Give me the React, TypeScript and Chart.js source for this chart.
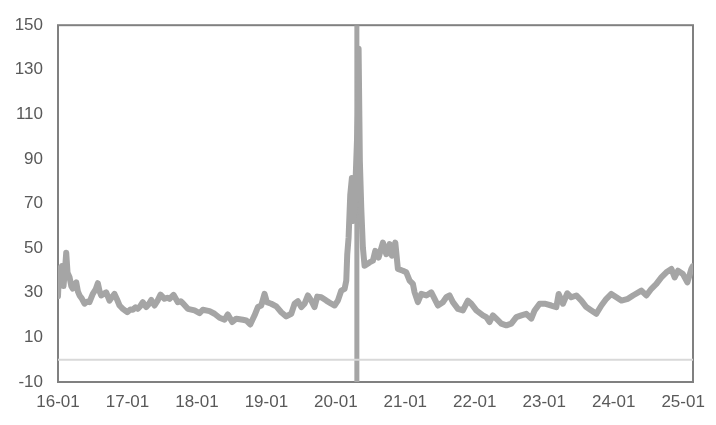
import React, { useEffect, useRef } from "react";
import { Chart, registerables } from "chart.js";

Chart.register(...registerables);

// x positions: months elapsed since 2016-01
const xTickValues = [0, 12, 24, 36, 48, 60, 72, 84, 96, 108];
const xTickLabels = ["16-01", "17-01", "18-01", "19-01", "20-01", "21-01", "22-01", "23-01", "24-01", "25-01"];
const yTickValues = [-10, 10, 30, 50, 70, 90, 110, 130, 150];
const xMax = 109.7;
const yMin = -10;
const yMax = 150;

const months = [
  0, 0.2, 0.45, 0.7, 0.95, 1.2, 1.42, 1.65, 1.99, 2.3, 2.56, 2.85, 3.15, 3.45, 3.72, 4.1, 4.58, 5.0, 5.44, 6.01,
  6.5, 6.88, 7.2, 7.46, 7.9, 8.33, 8.9, 9.3, 9.76, 10.2, 10.63, 11.2, 11.96, 12.5, 12.93, 13.4, 13.79, 14.2, 14.65, 15.24,
  15.7, 16.11, 16.68, 17.2, 17.71, 18.4, 18.9, 19.27, 19.96, 20.7, 21.2, 21.57, 22.43, 23.59, 24.45, 25.02, 26.18, 27.04, 27.91, 28.77,
  29.34, 30.1, 30.79, 31.93, 32.52, 33.21, 33.96, 34.53, 35.11, 35.68, 36.08, 36.84, 37.71, 38.57, 39.43, 40.3, 40.87, 41.44, 42.03, 42.6,
  43.17, 43.75, 44.32, 44.79, 45.48, 46.35, 47.21, 47.78, 48.35, 48.94, 49.51, 49.8, 49.97, 50.2, 50.49, 50.77, 51.01, 51.24, 51.81, 51.93,
  52.15, 52.39, 52.67, 52.96, 53.82, 54.4, 54.81, 55.38, 56.13, 56.71, 57.28, 57.68, 58.27, 58.72, 59.58, 60.17, 60.74, 61.31, 61.6, 62.17,
  62.76, 63.63, 64.49, 65.06, 65.63, 66.49, 67.08, 67.65, 68.22, 69.09, 69.95, 70.81, 71.4, 72.27, 73.41, 73.99, 74.56, 75.13, 75.72, 76.58,
  77.45, 78.31, 79.18, 80.04, 80.91, 81.77, 82.34, 83.2, 84.07, 85.22, 86.09, 86.49, 87.23, 87.99, 88.68, 89.54, 90.41, 91.27, 92.14, 93.0,
  93.87, 94.73, 95.59, 96.46, 97.32, 98.46, 99.33, 100.78, 101.64, 102.51, 103.37, 104.23, 105.1, 105.96, 106.53, 107.1, 107.96, 108.73, 109.42, 109.69,
];

const values = [
  28.5, 41, 34, 42, 33, 40, 48, 39, 37, 33, 31.9, 33.5, 34.7, 30.5, 28.8, 27.5, 25.1, 26, 25.8, 29.5,
  31.5, 34.3, 30.5, 28.8, 29.5, 30.2, 26.5, 28, 29.5, 27, 24.3, 22.8, 21.3, 22.5, 22.4, 23.5, 22.8, 24, 25.8, 23.6,
  25, 26.8, 24.3, 26.5, 29.2, 27.3, 27.8, 27.3, 29.1, 25.8, 26.2, 25.3, 22.8, 22.1, 20.9, 22.4, 21.8, 20.6, 18.8, 17.9,
  20.3, 16.9, 18.4, 17.9, 17.6, 15.8, 19.9, 23.6, 24.3, 29.5, 25.8, 25.1, 23.9, 21.3, 19.4, 20.6, 25.1, 26.2, 23.6, 25.1,
  28.8, 26.5, 23.6, 28.3, 28, 26.5, 25.1, 24.3, 26.5, 31, 31.8, 35.5, 47.3, 54.7, 74, 81.5, 62.2, 68.1, 110, 139.4,
  88.9, 68.1, 50.3, 42.1, 43.6, 44.4, 48.8, 45.8, 52.5, 47.3, 51.8, 46.6, 52.5, 40.7, 39.9, 39.2, 35.5, 34, 30.2, 25.8,
  29.5, 28.8, 30.2, 27.3, 24.3, 25.8, 28, 28.8, 25.8, 22.8, 22.1, 26.5, 25.1, 22.1, 19.9, 19.1, 16.9, 19.9, 18.4, 16.2,
  15.4, 16.2, 19.1, 19.9, 20.6, 18.4, 22.1, 25.1, 25.1, 24.3, 23.6, 29.5, 25.1, 29.8, 28, 28.8, 26.5, 23.6, 22.1, 20.6,
  24.3, 27.3, 29.5, 28, 26.5, 27.3, 28.8, 31, 28.8, 31.8, 34, 36.9, 39.2, 40.7, 36.9, 39.9, 38.4, 34.7, 40.7, 42,
];

const eventMonth = 51.63;

const textColor = "#595959";
const lineColor = "#a5a5a5";
const frameColor = "#808080";
const zeroLineColor = "#d9d9d9";
const fontSpec = { family: "'Liberation Sans', Arial, sans-serif", size: 17 };

export default function App() {
  const ref = useRef<HTMLCanvasElement>(null);

  useEffect(() => {
    if (!ref.current) return;
    const framePlugin = {
      id: "frame",
      beforeDatasetsDraw(chart: any) {
        const { ctx, chartArea: a } = chart;
        ctx.save();
        ctx.strokeStyle = frameColor;
        ctx.lineWidth = 2;
        ctx.strokeRect(a.left, a.top, a.right - a.left, a.bottom - a.top);
        ctx.restore();
      },
    };

    const series = months.map((m, i) => ({ x: m, y: values[i] }));

    const chart = new Chart(ref.current, {
      type: "line",
      data: {
        datasets: [
          {
            data: [
              { x: 0, y: 0 },
              { x: xMax, y: 0 },
            ],
            borderColor: zeroLineColor,
            borderWidth: 2,
            pointRadius: 0,
          },
          {
            data: series,
            borderColor: lineColor,
            borderWidth: 6,
            pointRadius: 0,
            borderJoinStyle: "round",
            borderCapStyle: "round",
            tension: 0,
          },
          {
            data: [
              { x: eventMonth, y: yMin },
              { x: eventMonth, y: yMax },
            ],
            borderColor: lineColor,
            borderWidth: 5,
            pointRadius: 0,
          },
        ],
      },
      options: {
        animation: false,
        responsive: false,
        maintainAspectRatio: false,
        layout: { padding: { top: 23, right: 23, left: 0, bottom: 0 } },
        plugins: { legend: { display: false }, tooltip: { enabled: false } },
        scales: {
          x: {
            type: "linear",
            min: 0,
            max: xMax,
            grid: { display: false, drawTicks: false },
            border: { display: false },
            afterBuildTicks: (s: any) => {
              s.ticks = xTickValues.map((v) => ({ value: v }));
            },
            afterFit: (s: any) => {
              s.height = 43;
            },
            ticks: {
              autoSkip: false,
              maxRotation: 0,
              minRotation: 0,
              color: textColor,
              font: fontSpec,
              padding: 10,
              callback: (v: any) => {
                const i = xTickValues.indexOf(Number(v));
                return i >= 0 ? xTickLabels[i] : "";
              },
            },
          },
          y: {
            type: "linear",
            min: yMin,
            max: yMax,
            grid: { display: false, drawTicks: false },
            border: { display: false },
            afterBuildTicks: (s: any) => {
              s.ticks = yTickValues.map((v) => ({ value: v }));
            },
            afterFit: (s: any) => {
              s.width = 58;
            },
            ticks: {
              autoSkip: false,
              color: textColor,
              font: fontSpec,
              padding: 15,
            },
          },
        },
      },
      plugins: [framePlugin],
    } as any);

    return () => chart.destroy();
  }, []);

  return (
    <div style={{ position: "fixed", left: 0, top: 0, width: 716, height: 425, background: "#fff" }}>
      <canvas ref={ref} width={716} height={425} style={{ width: 716, height: 425, display: "block" }} />
    </div>
  );
}
